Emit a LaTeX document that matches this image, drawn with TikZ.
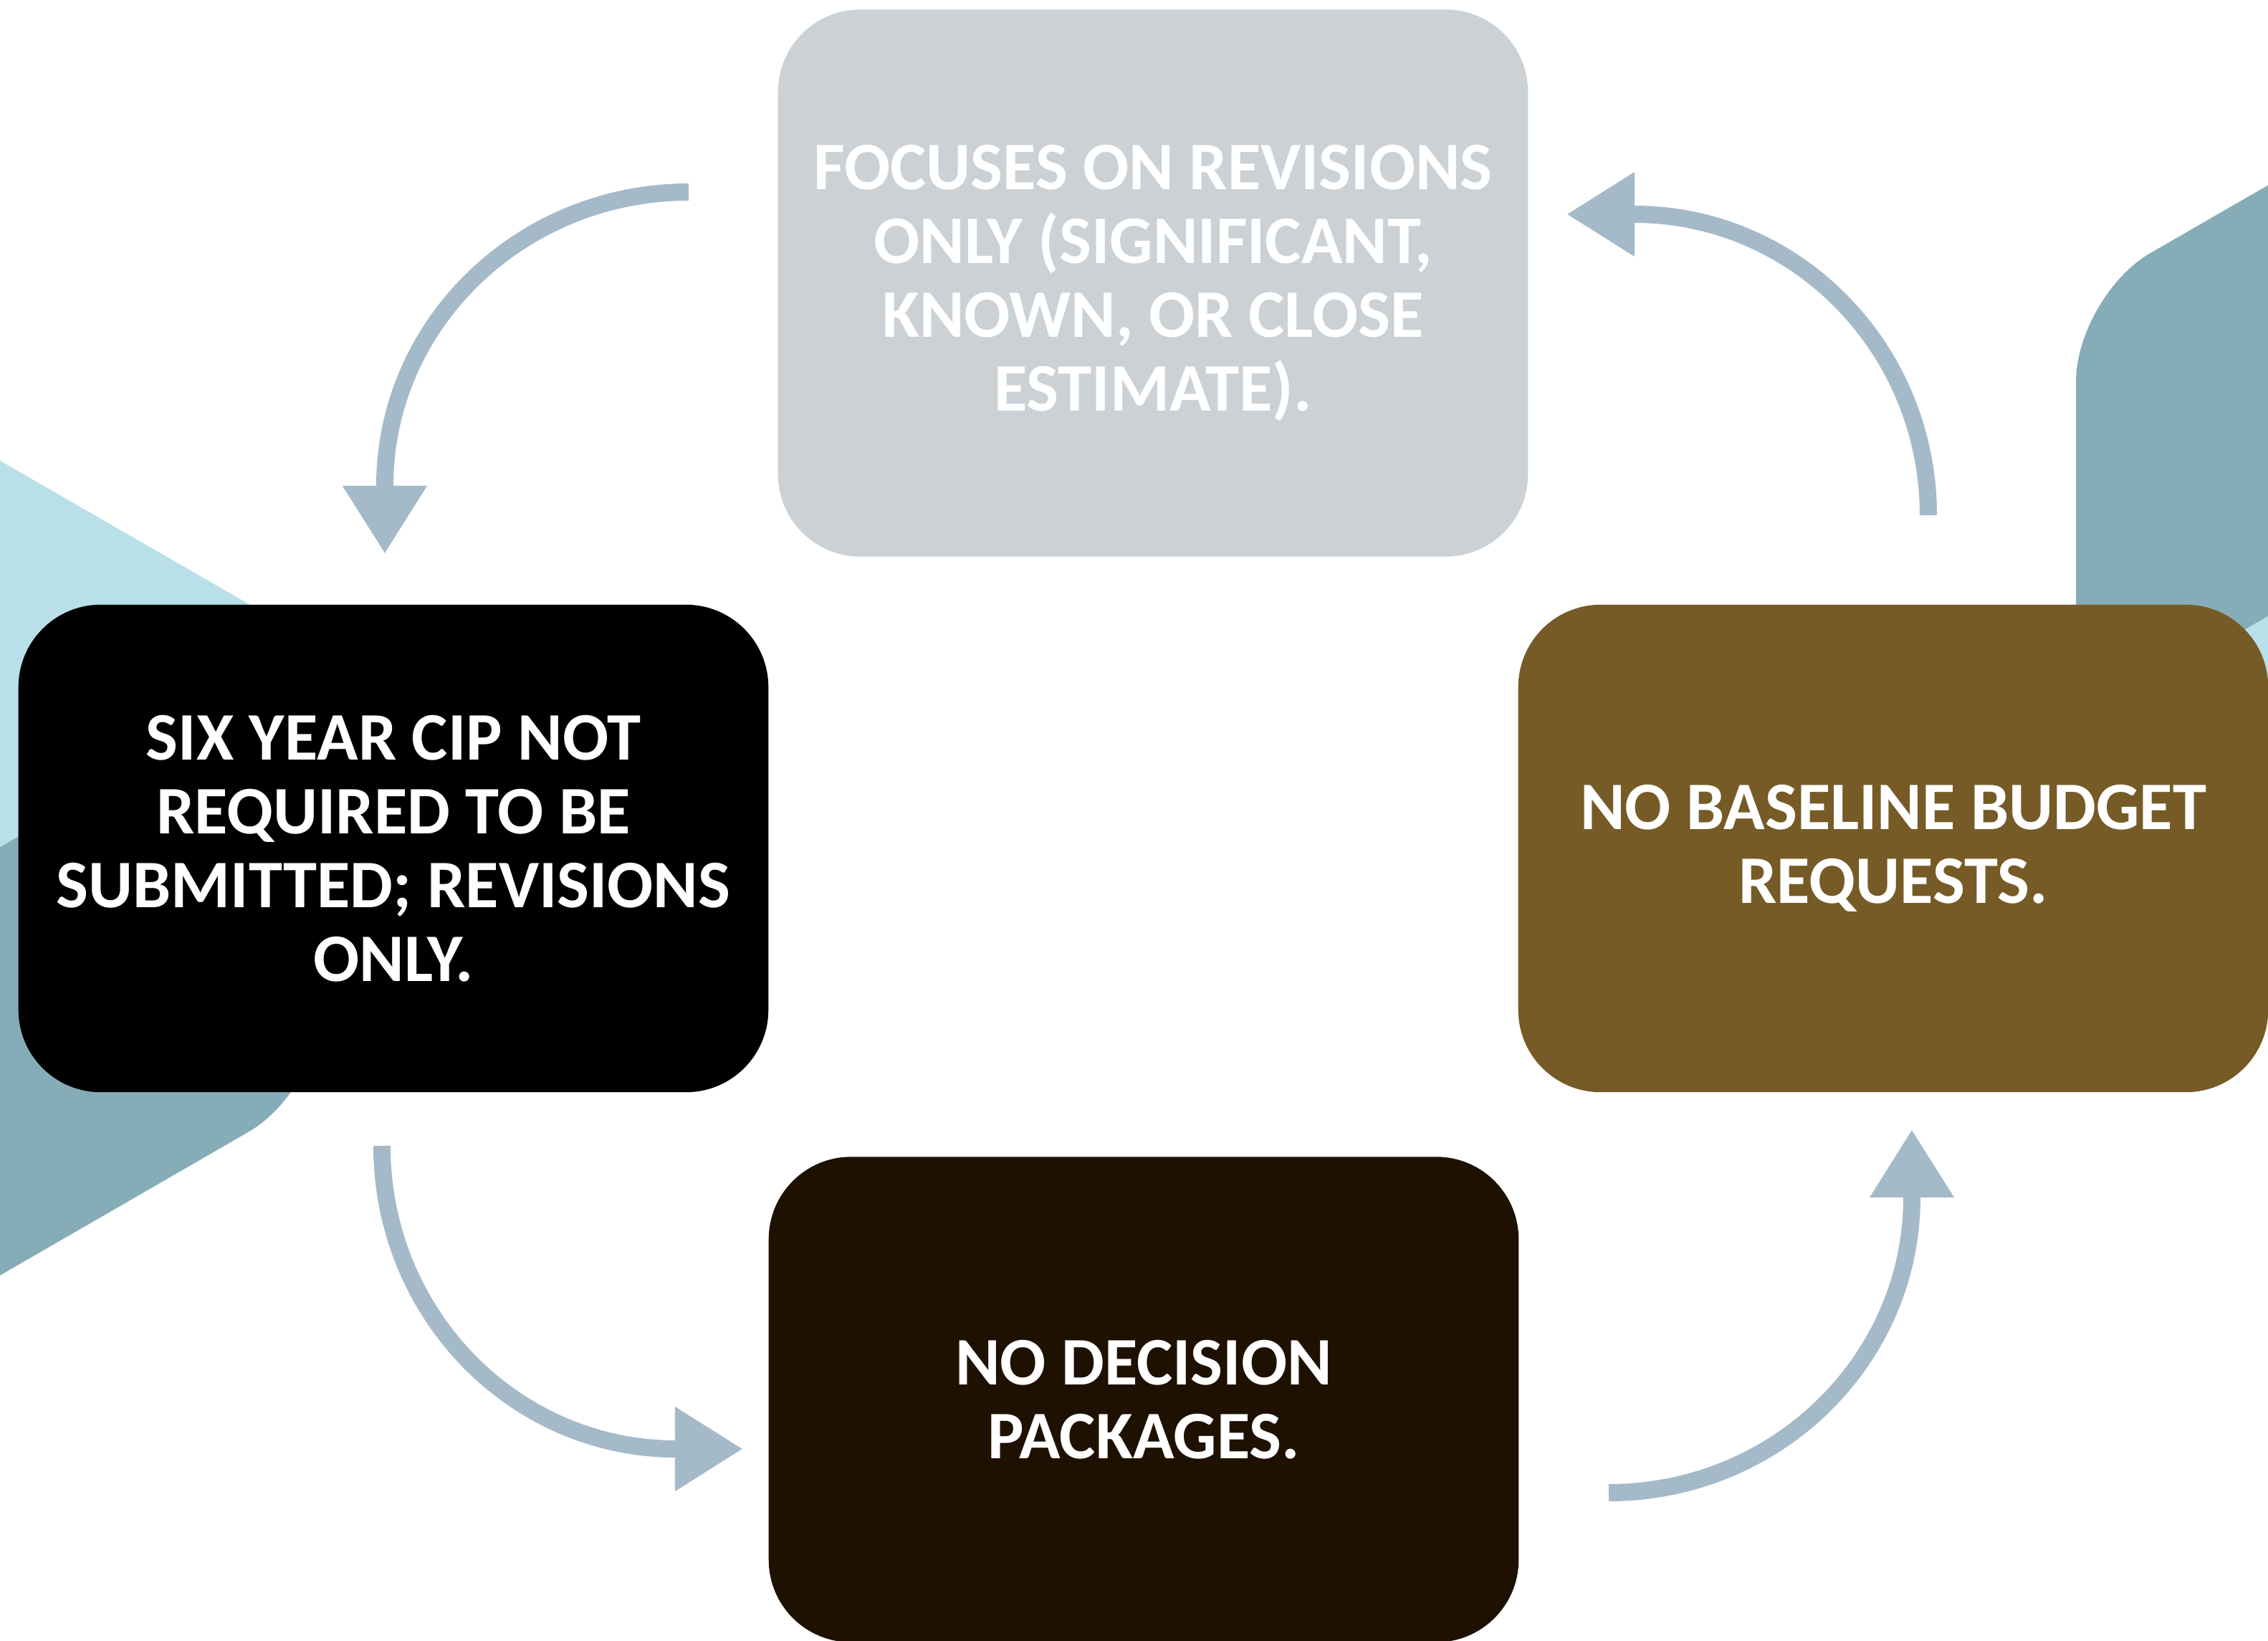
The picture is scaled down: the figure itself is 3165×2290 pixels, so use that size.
\documentclass[tikz,border=0pt]{standalone}
\usepackage{fontspec}
\setmainfont{Carlito}
\usetikzlibrary{arrows.meta}
\definecolor{box_grey}{RGB}{203, 209, 213}
\definecolor{box_brown}{RGB}{118, 91, 39}
\definecolor{box_dark}{RGB}{30, 17, 2}
\definecolor{arrow_blue}{RGB}{165, 186, 200}
\definecolor{hex_light}{RGB}{185, 224, 232}
\definecolor{hex_teal}{RGB}{134, 173, 183}
\newcommand{\cardfont}{\fontsize{27}{29.3}\selectfont\bfseries}
\tikzset{
  card/.style={rounded corners=1.15cm, minimum width=10.46cm, minimum height=6.8cm,
    inner sep=0pt, align=center, text=white, font=\cardfont},
  cycle arrow/.style={line width=0.24cm, arrow_blue,
    -{Triangle[width=1.11cm, length=0.95cm]}}
}

\begin{document}
\begin{tikzpicture}[x=0.01cm, y=-0.01cm]
\clip (0, 0) rectangle (3165, 2290);
\fill[white] (0, 0) rectangle (3165, 2290);

% background hexagons
\fill[hex_teal, rounded corners=1.19cm] (-300, 1000) -- (450, 1000) -- (450, 1520) -- (-300, 1953) -- cycle;
\fill[hex_light] (-50, 614) -- (467, 912) -- (-50, 1211) -- cycle;
\fill[hex_teal, rounded corners=1.2cm] (3400, 123) -- (2897, 413) -- (2897, 1100) -- (3400, 1100) -- cycle;
\fill[hex_light] (3215, 831) -- (2700, 1128) -- (3215, 1400) -- cycle;

\node[card, fill=box_grey, minimum height=7.63cm] (focus) at (1609, 395)
  {FOCUSES ON REVISIONS\\ONLY (SIGNIFICANT,\\KNOWN, OR CLOSE\\ESTIMATE).};
\node[card, fill=black] (sixyear) at (549, 1184)
  {SIX YEAR CIP NOT\\REQUIRED TO BE\\SUBMITTED; REVISIONS\\ONLY.};
\node[card, fill=box_brown] (baseline) at (2642, 1184)
  {NO BASELINE BUDGET\\REQUESTS.};
\node[card, fill=box_dark, minimum height=6.77cm] (decision) at (1596, 1953)
  {NO DECISION\\PACKAGES.};

\coordinate (a1s) at (961, 268);
\coordinate (a1b) at (537, 678);
\coordinate (a1t) at (537, 773);
\coordinate (a2s) at (2691, 719);
\coordinate (a2b) at (2281, 299);
\coordinate (a2t) at (2186, 299);
\coordinate (a3s) at (533, 1599);
\coordinate (a3b) at (943, 2022);
\coordinate (a3t) at (1037, 2022);
\coordinate (a4s) at (2245, 2083);
\coordinate (a4b) at (2668, 1671);
\coordinate (a4t) at (2668, 1576);

\draw[cycle arrow] (a1s) .. controls (727, 268) and (537, 452) .. (a1b) -- (a1t);
\draw[cycle arrow] (a2s) .. controls (2691, 487) and (2507, 299) .. (a2b) -- (a2t);
\draw[cycle arrow] (a3s) .. controls (533, 1833) and (717, 2022) .. (a3b) -- (a3t);
\draw[cycle arrow] (a4s) .. controls (2479, 2083) and (2668, 1898) .. (a4b) -- (a4t);
\end{tikzpicture}
\end{document}
